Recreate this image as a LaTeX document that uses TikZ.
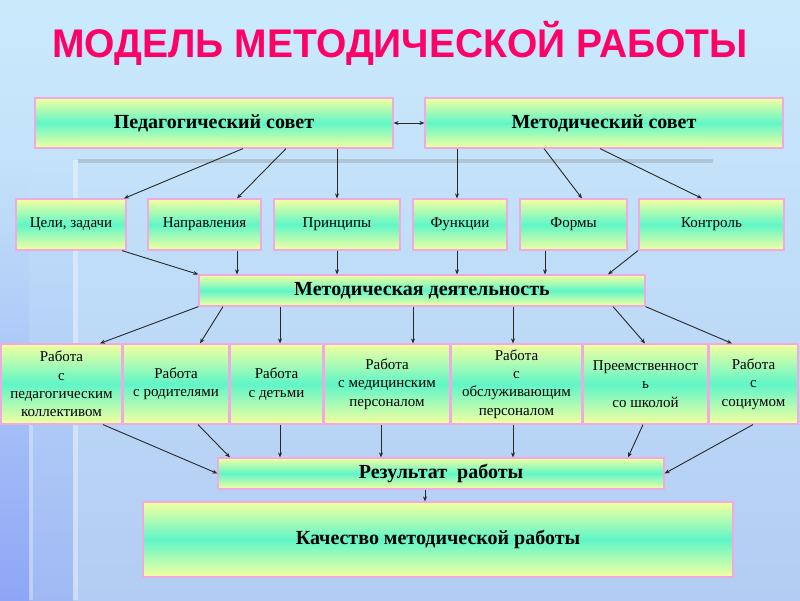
\documentclass[tikz,border=0pt]{standalone}
\usepackage{fontspec}
\setmainfont{Liberation Serif}
\newfontfamily\titlefont{Liberation Sans}
\usetikzlibrary{arrows.meta}

\definecolor{bgtop}{RGB}{202,234,252}
\definecolor{bgbot}{RGB}{178,204,243}
\definecolor{bgleft}{RGB}{142,166,245}
\definecolor{boxyellow}{RGB}{244,255,160}
\definecolor{boxmint}{RGB}{96,246,200}
\definecolor{boxedge}{RGB}{240,170,225}
\definecolor{titlered}{RGB}{255,0,102}
\definecolor{linkgray}{RGB}{40,40,40}

\begin{document}
\begin{tikzpicture}[x=1pt,y=-1pt,
    blk/.style={draw=boxedge,line width=1.2pt,top color=boxyellow,bottom color=boxyellow,middle color=boxmint,
        inner sep=0pt,align=center,font=\fontsize{15}{18.3}\selectfont},
    mainblk/.style={blk,font=\bfseries\fontsize{20}{22}\selectfont},
    link/.style={draw=linkgray,line width=0.9pt,-{Stealth[length=5pt,width=4pt]}}]

    \useasboundingbox (0,0) rectangle (800,600);
    \shade[top color=bgtop,bottom color=bgbot] (0,0) rectangle (800,600);
    \shade[top color=bgtop!73!bgbot,bottom color=bgleft!50!bgbot] (0,160) rectangle (73,600);
    \shade[top color=bgtop!73!bgbot,bottom color=bgleft] (0,160) rectangle (29,600);
    \fill[white,opacity=0.35] (73,160) rectangle (78,600);
    \fill[white,opacity=0.3] (29,425) rectangle (33,600);
    \fill[gray,opacity=0.3] (78,159) rectangle (713,163);

    \node[text=titlered,font=\titlefont\bfseries\fontsize{40}{40}\selectfont,transform shape,xscale=0.975] (title) at (400,43) {МОДЕЛЬ МЕТОДИЧЕСКОЙ РАБОТЫ};

    \node[mainblk,minimum width=358pt,minimum height=50pt] (ped) at (214,123) {Педагогический совет};
    \node[mainblk,minimum width=358pt,minimum height=50pt] (met) at (604,123) {Методический совет};
    \draw[link,{Stealth[length=5pt,width=4pt]}-{Stealth[length=5pt,width=4pt]}] (ped.east) -- (met.west);

    \node[blk,minimum width=110pt,minimum height=51pt] (goals) at (71,224.5) {Цели, задачи};
    \node[blk,minimum width=113pt,minimum height=51pt] (dirs) at (204.5,224.5) {Направления};
    \node[blk,minimum width=126pt,minimum height=51pt] (princ) at (337,224.5) {Принципы};
    \node[blk,minimum width=94pt,minimum height=51pt] (func) at (460,224.5) {Функции};
    \node[blk,minimum width=107pt,minimum height=51pt] (forms) at (573.5,224.5) {Формы};
    \node[blk,minimum width=145pt,minimum height=51pt] (ctrl) at (711.5,224.5) {Контроль};

    \draw[link] (243,0 |- ped.south) -- (124,0 |- goals.north);
    \draw[link] (286,0 |- ped.south) -- (237,0 |- dirs.north);
    \draw[link] (337,0 |- ped.south) -- (337,0 |- princ.north);
    \draw[link] (457,0 |- met.south) -- (457,0 |- func.north);
    \draw[link] (544,0 |- met.south) -- (582,0 |- forms.north);
    \draw[link] (600,0 |- met.south) -- (702,0 |- ctrl.north);

    \node[mainblk,minimum width=446pt,minimum height=31pt] (act) at (422,290.5) {Методическая деятельность};

    \draw[link] (122,0 |- goals.south) -- (act.north west);
    \draw[link] (237,0 |- dirs.south) -- (237,0 |- act.north);
    \draw[link] (337,0 |- princ.south) -- (337,0 |- act.north);
    \draw[link] (457,0 |- func.south) -- (457,0 |- act.north);
    \draw[link] (545,0 |- forms.south) -- (545,0 |- act.north);
    \draw[link] (638,0 |- ctrl.south) -- (608,0 |- act.north);

    \node[blk,minimum width=121pt,minimum height=80pt] (w1) at (61.5,384) {Работа\\с\\педагогическим\\коллективом};
    \node[blk,minimum width=106pt,minimum height=80pt] (w2) at (176,384) {Работа\\с родителями};
    \node[blk,minimum width=93pt,minimum height=80pt] (w3) at (276.5,384) {Работа\\с детьми};
    \node[blk,minimum width=126pt,minimum height=80pt] (w4) at (387,384) {Работа\\с медицинским\\персоналом};
    \node[blk,minimum width=131pt,minimum height=80pt] (w5) at (516.5,384) {Работа\\с\\обслуживающим\\персоналом};
    \node[blk,minimum width=125pt,minimum height=80pt] (w6) at (645.5,384) {Преемственност\\ь\\со школой};
    \node[blk,minimum width=89pt,minimum height=80pt] (w7) at (753.5,384) {Работа\\с\\социумом};

    \draw[link] (act.south west) -- (100,0 |- w1.north);
    \draw[link] (223,0 |- act.south) -- (200,0 |- w2.north);
    \draw[link] (280,0 |- act.south) -- (280,0 |- w3.north);
    \draw[link] (413,0 |- act.south) -- (413,0 |- w4.north);
    \draw[link] (513,0 |- act.south) -- (513,0 |- w5.north);
    \draw[link] (613,0 |- act.south) -- (645,0 |- w6.north);
    \draw[link] (act.south east) -- (732,0 |- w7.north);

    \node[mainblk,minimum width=446pt,minimum height=31pt] (res) at (441,473.5) {Результат\ \ работы};
    \node[mainblk,minimum width=590pt,minimum height=75pt] (qual) at (438,539.5) {Качество методической работы};

    \draw[link] (103,0 |- w1.south) -- (res.west);
    \draw[link] (198,0 |- w2.south) -- (230,0 |- res.north);
    \draw[link] (280,0 |- w3.south) -- (280,0 |- res.north);
    \draw[link] (381,0 |- w4.south) -- (381,0 |- res.north);
    \draw[link] (513,0 |- w5.south) -- (513,0 |- res.north);
    \draw[link] (643,0 |- w6.south) -- (628,0 |- res.north);
    \draw[link] (753,0 |- w7.south) -- (res.east);
    \draw[link] (425,0 |- res.south) -- (425,0 |- qual.north);

\end{tikzpicture}
\end{document}
